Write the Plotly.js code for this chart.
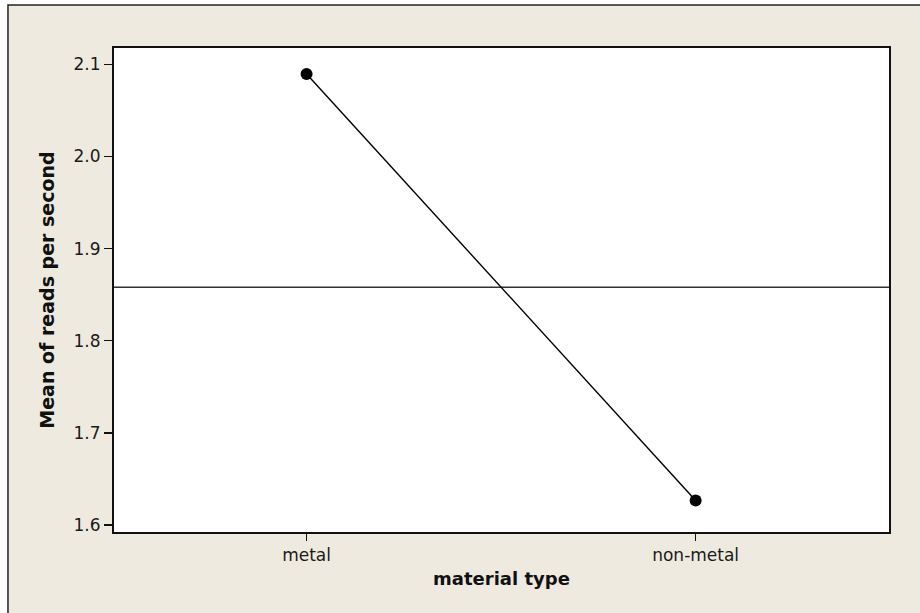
<!DOCTYPE html>
<html>
<head>
<meta charset="utf-8">
<script src="https://cdn.plot.ly/plotly-3.0.1.min.js"></script>
<style>html,body{margin:0;padding:0;background:#fff;}#chart{width:920px;height:613px;}</style>
</head>
<body>
<div id="chart"></div>
<script>
// Data
const categories = ["metal", "non-metal"];
const means = [2.0895, 1.6265];
const yTickVals = [1.6, 1.7, 1.8, 1.9, 2.0, 2.1];
const yTickText = ["1.6", "1.7", "1.8", "1.9", "2.0", "2.1"];
const grandMean = means.reduce((a, b) => a + b, 0) / means.length;

const trace = {
  x: categories,
  y: means,
  type: "scatter",
  mode: "lines+markers",
  line: {color: "#000", width: 1.4},
  marker: {color: "#000", size: 12, symbol: "circle"},
  hoverinfo: "skip"
};

const layout = {
  width: 920,
  height: 613,
  margin: {l: 114, r: 31, t: 48, b: 81, pad: 0},
  paper_bgcolor: "#ffffff",
  plot_bgcolor: "rgba(0,0,0,0)",
  showlegend: false,
  font: {family: "DejaVu Sans", color: "#1a1a1a", size: 17},
  xaxis: {
    type: "category",
    range: [-0.495, 1.497],
    showgrid: false, zeroline: false,
    showline: true, mirror: true, linecolor: "#111", linewidth: 2,
    ticks: "outside", ticklen: 7, tickwidth: 1.5, tickcolor: "#111",
    tickfont: {family: "DejaVu Sans", size: 17, color: "#1a1a1a"},
    title: {text: "material type", font: {family: "DejaVu Sans", size: 18, color: "#111", weight: "bold"}, standoff: 8},
    automargin: false
  },
  yaxis: {
    range: [1.5924, 2.1177],
    tickvals: yTickVals, ticktext: yTickText,
    showgrid: false, zeroline: false,
    showline: true, mirror: true, linecolor: "#111", linewidth: 2,
    ticks: "outside", ticklen: 8, tickwidth: 1.5, tickcolor: "#111",
    tickfont: {family: "DejaVu Sans", size: 17, color: "#1a1a1a"},
    title: {text: "Mean of reads per second", font: {family: "DejaVu Sans", size: 19, color: "#111", weight: "bold"}, standoff: 14},
    automargin: false
  },
  shapes: [
    {type: "rect", xref: "paper", yref: "paper", x0: -0.1368, x1: 1.06, y0: -0.2, y1: 1.0888,
     fillcolor: "#EEEAE0", line: {color: "#222", width: 1.5}, layer: "below"},
    {type: "rect", xref: "paper", yref: "paper", x0: 0, x1: 1, y0: 0, y1: 1,
     fillcolor: "#ffffff", line: {width: 0}, layer: "below"},
    {type: "line", xref: "paper", yref: "y", x0: 0, x1: 1, y0: grandMean, y1: grandMean,
     line: {color: "#333", width: 1.5}, layer: "below"}
  ]
};

Plotly.newPlot("chart", [trace], layout, {displayModeBar: false, staticPlot: true});
</script>
</body>
</html>
